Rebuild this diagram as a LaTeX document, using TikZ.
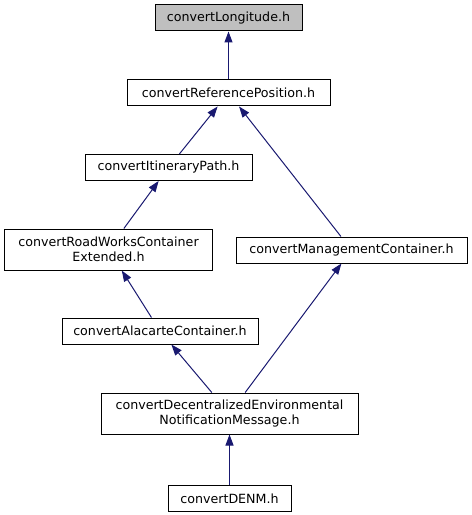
\documentclass[tikz,border=0pt]{standalone}
\usepackage{fontspec}
\setmainfont{DejaVu Sans}
\usetikzlibrary{arrows.meta}
\definecolor{edgeblue}{HTML}{191970}
\definecolor{curgray}{HTML}{BFBFBF}

\begin{document}
\begin{tikzpicture}[x=1bp, y=-1bp,
    file/.style={draw=black, line width=1bp, fill=white, inner xsep=0pt, inner ysep=0pt,
      minimum height=26bp, align=center, font=\fontsize{12.7}{15}\selectfont},
    dep/.style={draw=edgeblue, line width=1bp, -{Triangle[length=11bp, width=8bp]}}]
    \useasboundingbox (0,0) rectangle (472,515);

    % Files
    \node[file, fill=curgray, minimum width=147bp] (lon) at (228.5,18) {convertLongitude.h};
    \node[file, minimum width=203bp] (refpos) at (228.5,93) {convertReferencePosition.h};
    \node[file, minimum width=167bp] (itin) at (168.5,167.5) {convertItineraryPath.h};
    \node[file, minimum width=207bp, minimum height=41bp] (roadworks) at (108.5,249.5)
        {convertRoadWorksContainer\\Extended.h};
    \node[file, minimum width=231bp] (mgmt) at (351.5,250) {convertManagementContainer.h};
    \node[file, minimum width=196bp] (alacarte) at (160,331) {convertAlacarteContainer.h};
    \node[file, minimum width=257bp, minimum height=41bp] (denv) at (229.5,413.5)
        {convertDecentralizedEnvironmental\\NotificationMessage.h};
    \node[file, minimum width=123bp] (denm) at (229.5,498.5) {convertDENM.h};

    % Includes
    \draw[dep] (refpos) -- (lon);
    \draw[dep] (itin) -- (refpos);
    \draw[dep] (mgmt) -- (refpos);
    \draw[dep] (roadworks) -- (itin);
    \draw[dep] (alacarte) -- (roadworks);
    \draw[dep] (denv) -- (alacarte);
    \draw[dep] (denv) -- (mgmt);
    \draw[dep] (denm) -- (denv);
\end{tikzpicture}
\end{document}
